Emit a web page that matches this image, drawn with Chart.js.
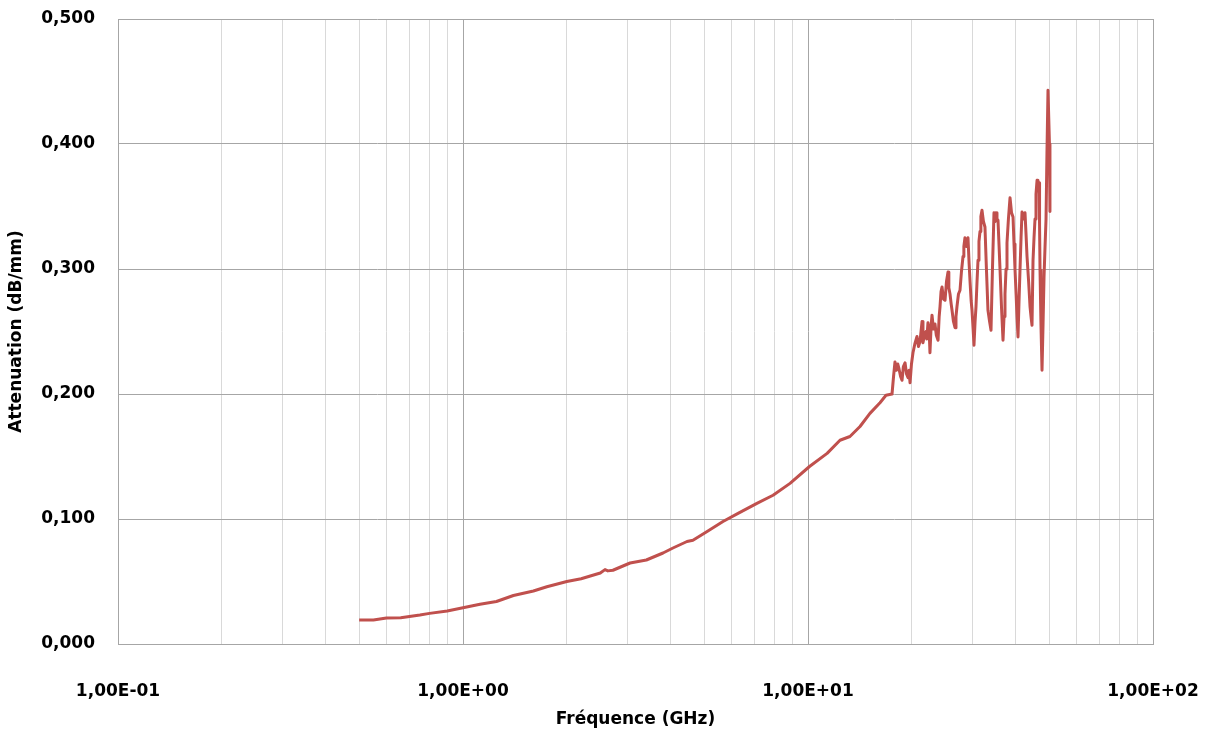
<!DOCTYPE html>
<html>
    <head>
        <title> Attenuation </title>
        <script src = "https://cdn.jsdelivr.net/npm/chart.js"> </script>
        <style>
            html, body { margin: 0; padding: 0; background: #ffffff; }
            #wrap { width: 1210px; height: 736px; }
        </style>
    </head>

    <body onload = "createChart()">

            <div id="wrap">
                <canvas id="myChart" width="1210" height="736"></canvas>
            </div>

            <script>
                // frequency (GHz) and measured attenuation (dB/mm)
                const freqGHz = [
                    0.50, 0.55, 0.60, 0.66, 0.75, 0.80, 0.90, 1.00, 1.12, 1.25,
                    1.40, 1.60, 1.75, 2.00, 2.20, 2.50, 2.58, 2.63, 2.72, 3.05,
                    3.40, 3.80, 4.06, 4.46, 4.64, 5.10, 5.67, 6.27, 7.11, 7.92,
                    8.87, 10.1, 11.36, 12.38, 13.23, 14.15, 15.12, 16.17, 16.83,
                    17.52, 17.70, 17.87, 18.05, 18.20, 18.36, 18.55, 18.73, 18.90, 19.11,
                    19.30, 19.50, 19.62, 19.76, 19.95, 20.15, 20.40, 20.70, 20.90, 21.12,
                    21.41, 21.54, 21.75, 21.98, 22.10, 22.27, 22.45, 22.57, 22.75, 22.88,
                    23.10, 23.34, 23.55, 23.82, 24.00, 24.14, 24.30, 24.46, 24.70, 24.96,
                    25.20, 25.46, 25.60, 25.80, 26.00, 26.15, 26.40, 26.68, 26.85, 27.03,
                    27.30, 27.58, 27.85, 28.14, 28.30, 28.51, 28.80, 29.09, 29.30, 29.49,
                    29.70, 29.88, 30.10, 30.28, 30.50, 30.69, 30.90, 31.10, 31.30, 31.52,
                    31.70, 31.94, 32.25, 32.58, 32.90, 33.24, 33.60, 33.92, 34.25, 34.60,
                    34.85, 35.07, 35.30, 35.54, 35.80, 36.02, 36.40, 36.75, 37.00, 37.24,
                    37.50, 37.74, 38.10, 38.51, 38.90, 39.29, 39.55, 39.81, 40.10, 40.35,
                    40.62, 40.90, 41.17, 41.45, 41.72, 42.10, 42.56, 42.85, 43.14, 43.60,
                    44.01, 44.30, 44.60, 44.90, 45.20, 45.50, 45.80, 46.12, 46.40, 46.74,
                    46.90, 47.05, 47.35, 47.68, 48.00, 48.32, 48.65, 48.97, 49.29, 49.62,
                    49.95, 50.10, 50.27
                ];
                const attenuation = [
                    0.0192, 0.0192, 0.0208, 0.0210, 0.0232, 0.0245, 0.0264, 0.0290, 0.0318, 0.0340,
                    0.0388, 0.0424, 0.0458, 0.0500, 0.0522, 0.0568, 0.0595, 0.0585, 0.0590, 0.0648,
                    0.0672, 0.0728, 0.0768, 0.0820, 0.0830, 0.0900, 0.0980, 0.1045, 0.1125, 0.1190,
                    0.1285, 0.1420, 0.1525, 0.1630, 0.1660, 0.1740, 0.1845, 0.1930, 0.1990,
                    0.200, 0.214, 0.2256, 0.219, 0.224, 0.220, 0.214, 0.211, 0.222, 0.225,
                    0.216, 0.213, 0.219, 0.209, 0.224, 0.233, 0.240, 0.246, 0.238, 0.242,
                    0.258, 0.241, 0.247, 0.250, 0.244, 0.257, 0.250, 0.233, 0.255, 0.263,
                    0.252, 0.256, 0.247, 0.243, 0.262, 0.270, 0.282, 0.2856, 0.276, 0.275,
                    0.290, 0.2976, 0.285, 0.280, 0.272, 0.267, 0.258, 0.253, 0.262, 0.270,
                    0.280, 0.283, 0.298, 0.310, 0.318, 0.325, 0.318, 0.325, 0.305, 0.290,
                    0.275, 0.267, 0.252, 0.239, 0.258, 0.270, 0.290, 0.307, 0.322, 0.330,
                    0.342, 0.347, 0.338, 0.3336, 0.300, 0.267, 0.258, 0.251, 0.300, 0.345,
                    0.338, 0.345, 0.340, 0.339, 0.318, 0.300, 0.268, 0.243, 0.262, 0.280,
                    0.300, 0.321, 0.340, 0.357, 0.345, 0.3416, 0.320, 0.300, 0.280, 0.2616,
                    0.2456, 0.275, 0.300, 0.325, 0.3456, 0.340, 0.345, 0.328, 0.310, 0.290,
                    0.270, 0.262, 0.255, 0.307, 0.325, 0.340, 0.360, 0.371, 0.365, 0.369,
                    0.335, 0.299, 0.255, 0.219, 0.255, 0.2936, 0.318, 0.340, 0.395, 0.443,
                    0.443, 0.400, 0.346
                ];

                // vertical grid lines: 1..9 in every decade, labelled at the decades
                const xDecades = [0.1, 1, 10, 100];
                const xGridValues = [];
                xDecades.forEach(function (d, i) {
                    const steps = i < xDecades.length - 1 ? [1, 2, 3, 4, 5, 6, 7, 8, 9] : [1];
                    steps.forEach(function (m) { xGridValues.push(+(m * d).toPrecision(3)); });
                });

                const yMin = 0, yMax = 0.5, yStep = 0.1;

                function isDecade(v) {
                    return xDecades.some(function (d) { return Math.abs(v - d) < d * 1e-6; });
                }

                function sciLabel(v) {
                    const exp = Math.round(Math.log10(v));
                    const sign = exp < 0 ? '-' : '+';
                    const e = String(Math.abs(exp)).padStart(2, '0');
                    return '1,00E' + sign + e;
                }

                function createChart() {
                    const ctx = document.getElementById('myChart');
                    const font = { family: 'DejaVu Sans', size: 17, weight: 'bold' };

                    new Chart(ctx, {
                        type: 'scatter',
                        data: {
                            datasets: [{
                                label: 'Attenuation',
                                data: freqGHz.map(function (f, i) { return { x: f, y: attenuation[i] }; }),
                                showLine: true,
                                borderColor: '#C0504D',
                                borderWidth: 3,
                                borderJoinStyle: 'round',
                                pointRadius: 0,
                                tension: 0
                            }]
                        },
                        options: {
                            responsive: false,
                            animation: false,
                            layout: { padding: { top: 19, right: 57, left: 0, bottom: 0 } },
                            plugins: {
                                legend: { display: false },
                                tooltip: { enabled: false }
                            },
                            scales: {
                                x: {
                                    type: 'logarithmic',
                                    min: 0.1,
                                    max: 100,
                                    afterBuildTicks: function (scale) {
                                        scale.ticks = xGridValues.map(function (v) { return { value: v }; });
                                    },
                                    afterFit: function (scale) {
                                        scale.height = 92;
                                        scale.paddingLeft = 0;
                                        scale.paddingRight = 0;
                                    },
                                    ticks: {
                                        autoSkip: false,
                                        maxRotation: 0,
                                        padding: 37,
                                        color: '#000000',
                                        font: font,
                                        callback: function (v) { return isDecade(v) ? sciLabel(v) : ''; }
                                    },
                                    grid: {
                                        drawTicks: false,
                                        lineWidth: 1,
                                        color: function (c) {
                                            return c.tick && isDecade(c.tick.value) ? '#a6a6a6' : '#d9d9d9';
                                        }
                                    },
                                    border: { color: '#a6a6a6', width: 1 },
                                    title: {
                                        display: true,
                                        text: 'Fréquence (GHz)',
                                        color: '#000000',
                                        font: font,
                                        padding: { top: 0, bottom: 6 }
                                    }
                                },
                                y: {
                                    min: yMin,
                                    max: yMax,
                                    afterFit: function (scale) {
                                        scale.width = 118;
                                        scale.paddingTop = 0;
                                        scale.paddingBottom = 0;
                                    },
                                    ticks: {
                                        stepSize: yStep,
                                        padding: 23,
                                        color: '#000000',
                                        font: font,
                                        callback: function (v) { return v.toFixed(3).replace('.', ','); }
                                    },
                                    grid: { drawTicks: false, color: '#a6a6a6', lineWidth: 1 },
                                    border: { color: '#a6a6a6', width: 1 },
                                    title: {
                                        display: true,
                                        text: 'Attenuation (dB/mm)',
                                        color: '#000000',
                                        font: font,
                                        padding: { top: 6, bottom: 0 }
                                    }
                                }
                            }
                        }
                    });
                }
            </script>

    </body>
</html>
